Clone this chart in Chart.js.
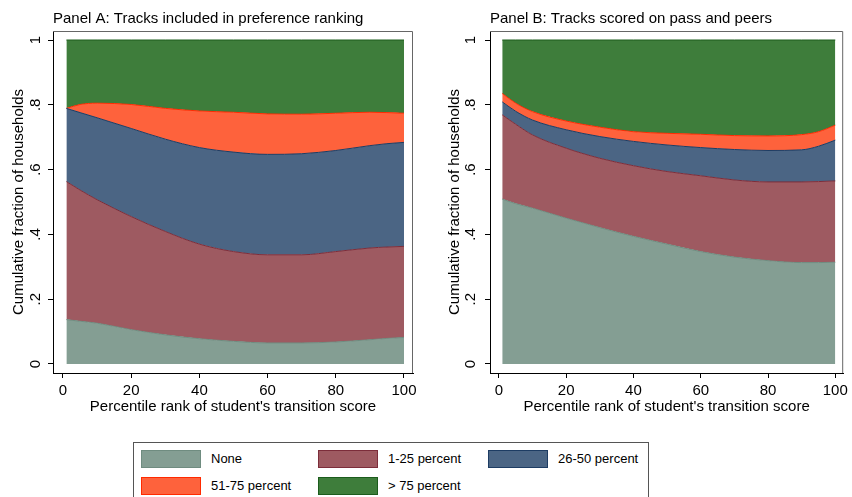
<!DOCTYPE html>
<html>
<head>
<meta charset="utf-8">
<script src="https://cdn.jsdelivr.net/npm/chart.js@4.4.1/dist/chart.umd.min.js"></script>
<style>
body { margin: 0; background: #fff; width: 852px; height: 497px; overflow: hidden; position: relative; font-family: "Liberation Sans", Arial, sans-serif; }
#chartA { position: absolute; left: 0; top: 0; }
#chartB { position: absolute; left: 430px; top: 0; }
#legend { position: absolute; left: 133px; top: 442px; width: 514px; height: 70px; border: 1px solid #555; }
.sw { position: absolute; width: 58px; height: 16px; border: 1px solid; }
.lab { position: absolute; font-size: 13px; color: #000; line-height: 18px; }
</style>
</head>
<body>
<canvas id="chartA" width="426" height="420"></canvas>
<canvas id="chartB" width="422" height="420"></canvas>
<div id="legend"></div>
<script>
// percentile rank of student's transition score
var xs = [1, 5, 10, 20, 30, 40, 50, 60, 70, 80, 90, 95, 100];

var categories = ["None", "1-25 percent", "26-50 percent", "51-75 percent", "> 75 percent"];
var fillColors = ['#849e93', '#9e5a61', '#4b6584', '#fe623c', '#3e7d3b'];
var lineColors = ['#6f8c80', '#7c2d3a', '#1d3c63', '#ff2a00', '#1c5c1c'];

// Panel A, cumulative fractions (top edge of each band)
var aNone  = [0.137, 0.132, 0.126, 0.106, 0.090, 0.078, 0.070, 0.065, 0.065, 0.068, 0.075, 0.079, 0.082];
var a1_25  = [0.563, 0.537, 0.507, 0.455, 0.409, 0.370, 0.347, 0.337, 0.337, 0.347, 0.358, 0.361, 0.363];
var a26_50 = [0.789, 0.776, 0.760, 0.727, 0.694, 0.668, 0.654, 0.647, 0.649, 0.659, 0.674, 0.680, 0.684];
var a51_75 = [0.789, 0.801, 0.805, 0.801, 0.789, 0.781, 0.777, 0.772, 0.771, 0.774, 0.777, 0.776, 0.774];
var aTop   = [1, 1, 1, 1, 1, 1, 1, 1, 1, 1, 1, 1, 1];

// Panel B, cumulative fractions
var bNone  = [0.509, 0.495, 0.481, 0.450, 0.421, 0.394, 0.370, 0.347, 0.330, 0.319, 0.313, 0.313, 0.314];
var b1_25  = [0.769, 0.740, 0.707, 0.666, 0.635, 0.612, 0.594, 0.581, 0.568, 0.562, 0.562, 0.563, 0.565];
var b26_50 = [0.809, 0.780, 0.753, 0.723, 0.702, 0.687, 0.676, 0.668, 0.662, 0.659, 0.661, 0.672, 0.691];
var b51_75 = [0.835, 0.805, 0.779, 0.750, 0.731, 0.717, 0.712, 0.709, 0.705, 0.704, 0.708, 0.717, 0.737];
var bTop   = [1, 1, 1, 1, 1, 1, 1, 1, 1, 1, 1, 1, 1];

var xTicks = [0, 20, 40, 60, 80, 100];
var yTicks = [0, 0.2, 0.4, 0.6, 0.8, 1];
var yTickLabels = ["0", ".2", ".4", ".6", ".8", "1"];

var FONT = "Liberation Sans";

function points(vals) {
    return vals.map(function (v, i) { return {x: xs[i], y: v}; });
}

// thin grey outline on top and right of plot region
var frame = {
    id: 'frame',
    afterDraw: function (chart) {
        var a = chart.chartArea, c = chart.ctx;
        c.save();
        c.strokeStyle = '#666';
        c.lineWidth = 1;
        c.beginPath();
        c.moveTo(a.left, a.top + 0.5);
        c.lineTo(a.right - 0.5, a.top + 0.5);
        c.lineTo(a.right - 0.5, a.bottom);
        c.stroke();
        c.restore();
    }
};

function makeChart(id, title, series, o) {
    var datasets = series.map(function (vals, i) {
        return {
            label: categories[i],
            data: points(vals),
            backgroundColor: fillColors[i],
            borderColor: lineColors[i],
            borderWidth: 1,
            pointRadius: 0,
            cubicInterpolationMode: 'monotone',
            fill: i === 0 ? 'origin' : '-1'
        };
    });
    return new Chart(document.getElementById(id), {
        type: 'line',
        data: {datasets: datasets},
        plugins: [frame],
        options: {
            responsive: false,
            animation: false,
            layout: {padding: {left: 0, right: o.rightPad, top: 0, bottom: 0}},
            plugins: {
                legend: {display: false},
                tooltip: {enabled: false},
                title: {
                    display: true, text: title, align: 'start', fullSize: false, color: '#000',
                    font: {family: FONT, size: 15, weight: 'normal'},
                    padding: {top: 10, bottom: 3}
                }
            },
            scales: {
                x: {
                    type: 'linear', min: o.xMin, max: o.xMax,
                    afterBuildTicks: function (s) { s.ticks = xTicks.map(function (v) { return {value: v}; }); },
                    afterFit: function (s) { s.height = 47; },
                    grid: {drawOnChartArea: false, color: '#000', tickLength: 5},
                    border: {color: '#000'},
                    ticks: {color: '#000', font: {family: FONT, size: 15}, padding: 4, maxRotation: 0},
                    title: {display: true, text: "Percentile rank of student's transition score", color: '#000',
                        font: {family: FONT, size: 15}, padding: {top: 0, bottom: 4}}
                },
                y: {
                    min: -0.0278, max: 1.0278,
                    afterBuildTicks: function (s) { s.ticks = yTicks.map(function (v) { return {value: v}; }); },
                    afterFit: function (s) { s.width = o.yWidth; },
                    grid: {drawOnChartArea: false, color: '#000', tickLength: 5},
                    border: {color: '#000'},
                    ticks: {
                        color: '#000', font: {family: FONT, size: 15}, padding: o.tickPad,
                        minRotation: 90, maxRotation: 90, crossAlign: 'center',
                        callback: function (v) { return yTickLabels[yTicks.indexOf(v)]; }
                    },
                    title: {display: true, text: 'Cumulative fraction of households', color: '#000',
                        font: {family: FONT, size: 15}, padding: {top: o.titlePad, bottom: 0}}
                }
            }
        }
    });
}

makeChart('chartA', 'Panel A: Tracks included in preference ranking',
    [aNone, a1_25, a26_50, a51_75, aTop],
    {rightPad: 13, yWidth: 53, xMin: -2.93, xMax: 102.64, tickPad: 6, titlePad: 10});

makeChart('chartB', 'Panel B: Tracks scored on pass and peers',
    [bNone, b1_25, b26_50, b51_75, bTop],
    {rightPad: 4, yWidth: 60, xMin: -2.64, xMax: 102.35, tickPad: 8, titlePad: 16});

// legend box underneath both panels
var legend = document.getElementById('legend');
var colX = [7, 184, 354];
var rowY = [7, 34];
categories.forEach(function (name, i) {
    var cx = colX[i % 3], cy = rowY[Math.floor(i / 3)];
    var sw = document.createElement('div');
    sw.className = 'sw';
    sw.style.left = cx + 'px';
    sw.style.top = cy + 'px';
    sw.style.background = fillColors[i];
    sw.style.borderColor = lineColors[i];
    legend.appendChild(sw);
    var lab = document.createElement('div');
    lab.className = 'lab';
    lab.style.left = (cx + 70) + 'px';
    lab.style.top = cy + 'px';
    lab.textContent = name;
    legend.appendChild(lab);
});
</script>
</body>
</html>
